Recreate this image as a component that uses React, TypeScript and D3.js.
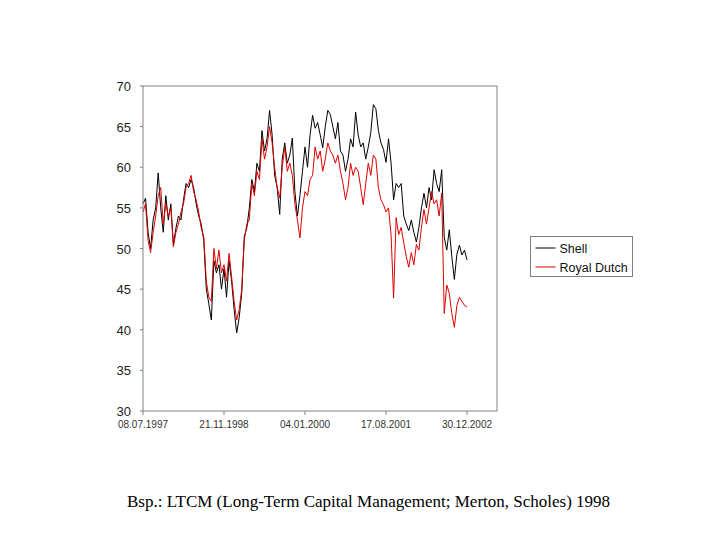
import { useEffect, useRef } from 'react'
import * as d3 from 'd3'

// weekly observations, index 0..128
const shell = [
  55.5, 56.2, 52, 50, 53.5, 55, 59.3, 55, 52, 56.5, 53.5, 55.5, 50.5, 52.5, 54, 53.5,
  56, 58, 57.5, 58.5, 57.5, 55.5, 54, 53, 51, 45, 43.2, 41.2, 48.5, 47, 48, 45,
  47.5, 44, 48.5, 46, 42.5, 39.6, 41.5, 44.5, 51.5, 52.5, 55, 58.5, 57, 60.5, 59.5, 64.5,
  62, 63.5, 67, 64, 59, 57.5, 54.2, 61, 63, 60.5, 61.5, 63.6, 57, 54, 56.5, 59.5,
  62.5, 60, 64, 66.4, 64.8, 65.5, 64, 62.4, 65, 67, 66.5, 65, 63.5, 65.5, 62, 61.5,
  59.5, 61, 63.5, 62.5, 66.8, 64, 62.5, 63, 61, 62.5, 64.3, 67.7, 67.2, 64.5, 63, 62.2,
  60.6, 63.5, 60.5, 56, 58, 57.5, 58, 54, 53, 52.2, 53.5, 52, 50.8, 52.6, 55, 56.8,
  55, 57.5, 56, 59.7, 58, 57, 59.7, 51.4, 49.8, 52.3, 49, 46.2, 49.3, 50.4, 49.2, 49.8,
  48.6,
]
const royalDutch = [
  54.5, 55.5, 51, 49.5, 52, 54, 56.5, 57.5, 53, 55.5, 54, 55, 50.2, 52, 53, 54.5,
  55.5, 57.5, 58, 59, 57, 56, 54.5, 52.5, 51.5, 46, 44, 43.5, 50, 47.5, 49.8, 47,
  48, 46, 49.4, 46.5, 43.5, 41.2, 42.5, 45, 51, 53, 53.5, 58, 56.5, 59.5, 58.5, 63.5,
  61, 62.5, 65, 63, 60, 57.5, 56.2, 60, 62.5, 59.5, 60.5, 59, 55.5, 53.5, 51.3, 55,
  57, 56.5, 58.5, 59, 62.5, 61, 62, 59.5, 61, 63, 62, 61.5, 60.5, 61.5, 59.5, 58,
  56, 57.5, 60.5, 59, 60, 59.5, 57.5, 55.4, 58, 60.5, 59, 61.5, 61, 57.5, 56, 55.4,
  54.5, 55, 51.7, 43.9, 53.8, 51.7, 52.6, 50.7, 49, 47.7, 49.5, 48, 50.5, 49.8, 52.6, 54.8,
  53, 55, 57, 55.5, 56, 54, 56.8, 42, 45.5, 44.5, 42, 40.3, 43, 44, 43.5, 43,
  42.8,
]
const tickIndex = [0, 32, 64, 96, 128]
const tickLabels = ['08.07.1997', '21.11.1998', '04.01.2000', '17.08.2001', '30.12.2002']
const yTicks = [30, 35, 40, 45, 50, 55, 60, 65, 70]
const seriesNames = ['Shell', 'Royal Dutch']
const seriesColors = ['#000000', '#e00000']

export default function App() {
  const svgRef = useRef<SVGSVGElement | null>(null)

  useEffect(() => {
    document.body.style.margin = '0'
    if (!svgRef.current) return
    const svg = d3.select(svgRef.current)
    svg.selectAll('*').remove()

    const left = 143, right = 497, top = 86, bottom = 411
    const x = d3.scaleLinear().domain([0, 139.85]).range([left, right])
    const y = d3.scaleLinear().domain([30, 70]).range([bottom, top])

    svg.append('rect').attr('width', 720).attr('height', 540).attr('fill', '#fff')

    // y ticks
    const ya = svg.append('g')
    yTicks.forEach(t => {
      ya.append('line').attr('x1', left - 3).attr('x2', left)
        .attr('y1', y(t)).attr('y2', y(t)).attr('stroke', '#808080')
      ya.append('text').attr('x', 131).attr('y', y(t) + 5)
        .attr('text-anchor', 'end').attr('font-family', 'Liberation Sans, Arial, sans-serif')
        .attr('font-size', '13px').attr('fill', '#222').text(t)
    })

    // x ticks
    const xa = svg.append('g')
    tickIndex.forEach((t, i) => {
      xa.append('line').attr('x1', x(t)).attr('x2', x(t))
        .attr('y1', bottom).attr('y2', bottom + 4).attr('stroke', '#808080')
      xa.append('text').attr('x', x(t)).attr('y', 428)
        .attr('text-anchor', 'middle').attr('font-family', 'Liberation Sans, Arial, sans-serif')
        .attr('font-size', '10px').attr('fill', '#333').text(tickLabels[i])
    })

    const line = d3.line<number>().x((_, i) => x(i)).y(d => y(d))
    ;[shell, royalDutch].forEach((s, k) => {
      svg.append('path').datum(s).attr('d', line).attr('fill', 'none')
        .attr('stroke', seriesColors[k]).attr('stroke-width', 1)
    })

    svg.append('rect').attr('x', left).attr('y', top)
      .attr('width', right - left).attr('height', bottom - top)
      .attr('fill', 'none').attr('stroke', '#808080')

    // legend
    const lg = svg.append('g').attr('transform', 'translate(530.5,236.5)')
    lg.append('rect').attr('width', 102).attr('height', 40)
      .attr('fill', '#fff').attr('stroke', '#808080')
    seriesNames.forEach((n, i) => {
      const yy = 11.5 + i * 19
      lg.append('line').attr('x1', 5).attr('x2', 25).attr('y1', yy).attr('y2', yy)
        .attr('stroke', seriesColors[i]).attr('stroke-width', 1)
      lg.append('text').attr('x', 29).attr('y', yy + 4.5)
        .attr('font-family', 'Liberation Sans, Arial, sans-serif')
        .attr('font-size', '12.5px').attr('fill', '#111').text(n)
    })

    svg.append('text').attr('x', 127).attr('y', 507)
      .attr('font-family', 'Liberation Serif, Times New Roman, serif')
      .attr('font-size', '17px').attr('fill', '#000')
      .text('Bsp.: LTCM (Long-Term Capital Management; Merton, Scholes) 1998')
  }, [])

  return <svg ref={svgRef} width={720} height={540} style={{ display: 'block' }} />
}
